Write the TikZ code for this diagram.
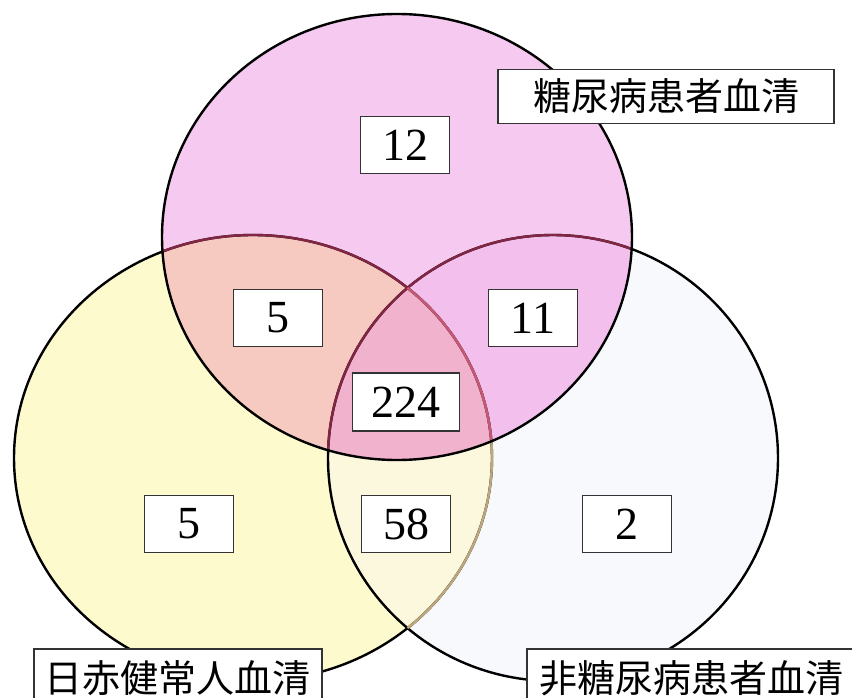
\documentclass[tikz,border=0pt]{standalone}
\usepackage{fontspec}
\setmainfont{Liberation Serif}
\newfontfamily\cjk{Noto Sans CJK JP}
\definecolor{cYel}{RGB}{253,250,206}
\definecolor{cLY}{RGB}{252,248,222}
\definecolor{cWht}{RGB}{248,249,253}
\definecolor{cPink}{RGB}{246,202,240}
\definecolor{cSalmon}{RGB}{246,202,192}
\definecolor{cPinkB}{RGB}{243,192,238}
\definecolor{cCenter}{RGB}{241,178,205}
\definecolor{cRed}{RGB}{130,38,68}
\definecolor{cRedL}{RGB}{196,88,118}
\definecolor{cLineY}{RGB}{188,168,122}
\begin{document}
\begin{tikzpicture}[x=1pt,y=-1pt,
  numbox/.style={draw=black!80,line width=1.2pt,fill=white,minimum width=89pt,minimum height=57pt,inner sep=0pt,font=\fontsize{46}{46}\selectfont},
  labbox/.style={draw=black!80,line width=1.2pt,fill=white,inner sep=0pt,minimum height=54pt,font=\cjk\fontsize{38}{38}\selectfont},
  ring/.style={line width=2.4pt}]
\useasboundingbox (0,0) rectangle (852,698);
\clip (0,0) rectangle (852,698);
% fills
\fill[cYel] (253,458) ellipse [x radius=239, y radius=223];
\fill[cWht] (553,458) ellipse [x radius=225, y radius=223];
\begin{scope}
  \clip (553,458) ellipse [x radius=225, y radius=223];
  \fill[cLY] (253,458) ellipse [x radius=239, y radius=223];
\end{scope}
\fill[cPink] (397,237) ellipse [x radius=235, y radius=223];
\begin{scope}
  \clip (397,237) ellipse [x radius=235, y radius=223];
  \fill[cSalmon] (253,458) ellipse [x radius=239, y radius=223];
  \fill[cPinkB] (553,458) ellipse [x radius=225, y radius=223];
  \clip (253,458) ellipse [x radius=239, y radius=223];
  \fill[cCenter] (553,458) ellipse [x radius=225, y radius=223];
\end{scope}
% outlines
\draw[ring] (253,458) ellipse [x radius=239, y radius=223];
\draw[ring] (553,458) ellipse [x radius=225, y radius=223];
\begin{scope}
  \clip (553,458) ellipse [x radius=225, y radius=223];
  \draw[ring,cLineY] (253,458) ellipse [x radius=239, y radius=223];
\end{scope}
\begin{scope}
  \clip (397,237) ellipse [x radius=235, y radius=223];
  \draw[ring,cRed] (253,458) ellipse [x radius=239, y radius=223];
  \draw[ring,cRed] (553,458) ellipse [x radius=225, y radius=223];
  \clip (553,458) ellipse [x radius=225, y radius=223];
  \draw[ring,cRedL] (253,458) ellipse [x radius=239, y radius=223];
\end{scope}
\draw[ring] (397,237) ellipse [x radius=235, y radius=223];
% numbers
\node[numbox] (n12) at (405,145) {12};
\node[numbox] (n5a) at (278,318) {5};
\node[numbox] (n11) at (533,318) {11};
\node[numbox,minimum width=107pt,minimum height=58pt] (n224) at (406,402) {224};
\node[numbox] (n5b) at (189,524) {5};
\node[numbox] (n58) at (406,524) {58};
\node[numbox] (n2) at (627,524) {2};
% labels
\node[labbox,minimum width=336pt] (labTop) at (666,96.5) {糖尿病患者血清};
\node[labbox,minimum width=288pt,minimum height=58pt] (labLeft) at (178,678) {日赤健常人血清};
\node[labbox,minimum width=329pt,minimum height=58pt] (labRight) at (691.5,678) {非糖尿病患者血清};
\end{tikzpicture}
\end{document}
